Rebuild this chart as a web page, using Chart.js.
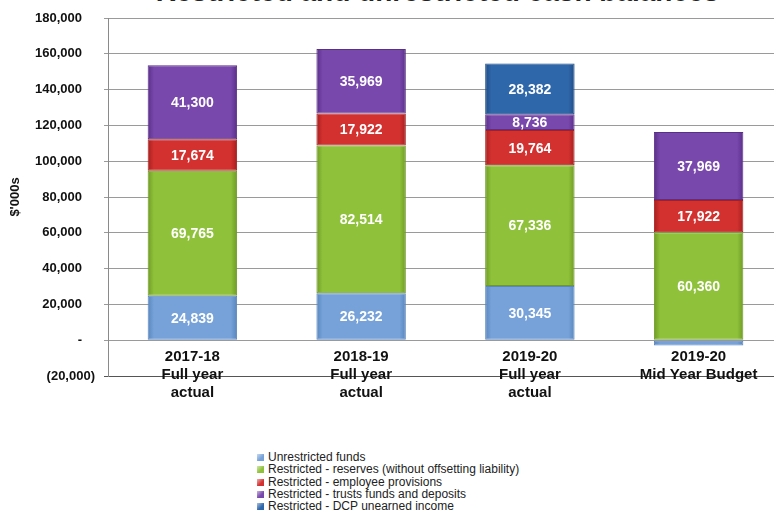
<!DOCTYPE html>
<html>
<head>
<meta charset="utf-8">
<script src="https://cdn.jsdelivr.net/npm/chart.js@4.4.1/dist/chart.umd.min.js"></script>
<style>
  html, body { margin: 0; padding: 0; background: #fff; overflow: hidden; width: 774px; height: 521px; }
  #wrap { position: relative; width: 774px; height: 521px; overflow: hidden; }
  #title { position: absolute; top: -22px; left: 0; width: 875px; text-align: center;
           font: bold 28px Arial, "Liberation Sans", sans-serif; color: #222; line-height: 28px; white-space: nowrap; }
  #chartBox { position: absolute; top: 0; left: 0; width: 784px; height: 440px; }
  #legend { position: absolute; top: 451px; left: 257px; font: 12px Arial, "Liberation Sans", sans-serif; color: #222; }
  #legend div { height: 12.3px; line-height: 12.3px; white-space: nowrap; }
  #legend span.box { display: inline-block; width: 7px; height: 7px; margin-right: 4px; vertical-align: 0px; }
</style>
</head>
<body>
<div id="wrap">
  <div id="title">Restricted and unrestricted cash balances</div>
  <div id="chartBox"><canvas id="cashChart"></canvas></div>
  <div id="legend"></div>
</div>
<script>
  const categories = [
    ['2017-18', 'Full year', 'actual'],
    ['2018-19', 'Full year', 'actual'],
    ['2019-20', 'Full year', 'actual'],
    ['2019-20', 'Mid Year Budget']
  ];
  const unrestricted = [24839, 26232, 30345, -3000];
  const reserves = [69765, 82514, 67336, 60360];
  const employeeProvisions = [17674, 17922, 19764, 17922];
  const trustsDeposits = [41300, 35969, 8736, 37969];
  const dcpIncome = [0, 0, 28382, 0];
  const yTicks = [-20000, 0, 20000, 40000, 60000, 80000, 100000, 120000, 140000, 160000, 180000];

  const series = [
    { label: 'Unrestricted funds', data: unrestricted, color: '#76a2d9', edge: '#5a86bf' },
    { label: 'Restricted - reserves (without offsetting liability)', data: reserves, color: '#8fc23a', edge: '#6f9a25' },
    { label: 'Restricted - employee provisions', data: employeeProvisions, color: '#d3312f', edge: '#a61f1e' },
    { label: 'Restricted - trusts funds and deposits', data: trustsDeposits, color: '#7848ac', edge: '#5a2f88' },
    { label: 'Restricted - DCP unearned income', data: dcpIncome, color: '#2f67ab', edge: '#1f4c85' }
  ];

  const fontFamily = 'Arial, "Liberation Sans", sans-serif';
  const fmt = v => Math.abs(v).toLocaleString('en-US');
  const BAR_PCT = 0.53;

  // soft bevel: darker towards the left/right edges of each bar
  function bevel(s) {
    return c => {
      const x = c.chart.scales.x;
      if (!x || c.dataIndex === undefined) return s.color;
      const cx = x.getPixelForValue(c.dataIndex);
      const half = (x.width / categories.length) * BAR_PCT / 2;
      if (!isFinite(cx) || !isFinite(half) || half <= 0) return s.color;
      const g = c.chart.ctx.createLinearGradient(cx - half, 0, cx + half, 0);
      g.addColorStop(0, s.edge);
      g.addColorStop(0.07, s.color);
      g.addColorStop(0.93, s.color);
      g.addColorStop(1, s.edge);
      return g;
    };
  }

  // white value labels in the middle of each segment
  const segmentLabels = {
    id: 'segmentLabels',
    afterDatasetsDraw(chart) {
      const ctx = chart.ctx;
      ctx.save();
      ctx.font = 'bold 14px ' + fontFamily;
      ctx.fillStyle = '#fff';
      ctx.textAlign = 'center';
      ctx.textBaseline = 'middle';
      chart.data.datasets.forEach((ds, i) => {
        const meta = chart.getDatasetMeta(i);
        meta.data.forEach((bar, j) => {
          const v = ds.data[j];
          if (v < 5000) return;
          ctx.fillText(fmt(v), bar.x, (bar.y + bar.base) / 2 + 1);
        });
      });
      ctx.restore();
    }
  };

  // category names sit just under the zero line, not at the bottom of the plot
  const categoryLabels = {
    id: 'categoryLabels',
    afterDraw(chart) {
      const ctx = chart.ctx;
      const x = chart.scales.x, y = chart.scales.y;
      const zero = y.getPixelForValue(0);
      ctx.save();
      ctx.font = 'bold 15px ' + fontFamily;
      ctx.fillStyle = '#111';
      ctx.textAlign = 'center';
      ctx.textBaseline = 'middle';
      categories.forEach((lines, i) => {
        const cx = x.getPixelForValue(i);
        lines.forEach((t, k) => ctx.fillText(t, cx, zero + 17 + k * 18));
      });
      ctx.restore();
    }
  };

  const ctx = document.getElementById('cashChart').getContext('2d');
  const chart = new Chart(ctx, {
    type: 'bar',
    data: {
      labels: categories,
      datasets: series.map(s => ({
        label: s.label,
        data: s.data,
        backgroundColor: bevel(s),
        borderColor: s.edge,
        borderWidth: 1,
        borderSkipped: false,
        barPercentage: BAR_PCT,
        categoryPercentage: 1
      }))
    },
    options: {
      responsive: true,
      maintainAspectRatio: false,
      animation: false,
      layout: { padding: { top: 18, right: 1, left: 0, bottom: 0 } },
      plugins: {
        legend: { display: false },
        tooltip: { enabled: false }
      },
      scales: {
        x: {
          stacked: true,
          grid: { display: false },
          border: { display: false },
          ticks: { display: false },
          afterFit(scale) { scale.height = 64; }
        },
        y: {
          stacked: true,
          min: -20000,
          max: 180000,
          afterBuildTicks(scale) { scale.ticks = yTicks.map(v => ({ value: v })); },
          grid: {
            color: c => c.tick && c.tick.value === -20000 ? '#555' : '#9a9a9a',
            lineWidth: 1,
            tickLength: 4
          },
          border: { display: true, color: '#8a8a8a' },
          ticks: {
            color: '#111',
            padding: 9,
            font: { family: fontFamily, size: 13, weight: 'bold' },
            callback: v => v === 0 ? '-\u2002\u2002' : v < 0 ? '(' + fmt(v) + ')' : fmt(v) + '\u2002\u2002'
          },
          title: {
            display: true,
            text: "$'000s",
            color: '#111',
            font: { family: fontFamily, size: 13, weight: 'bold' },
            padding: { top: 8, bottom: 0 }
          },
          afterFit(scale) { scale.width = 108; }
        }
      }
    },
    plugins: [segmentLabels, categoryLabels]
  });

  // legend list below the chart
  const legend = document.getElementById('legend');
  series.forEach(s => {
    const row = document.createElement('div');
    const box = document.createElement('span');
    box.className = 'box';
    box.style.background = 'linear-gradient(135deg, #fff -40%, ' + s.color + ' 60%)';
    row.appendChild(box);
    row.appendChild(document.createTextNode(s.label));
    legend.appendChild(row);
  });
</script>
</body>
</html>
